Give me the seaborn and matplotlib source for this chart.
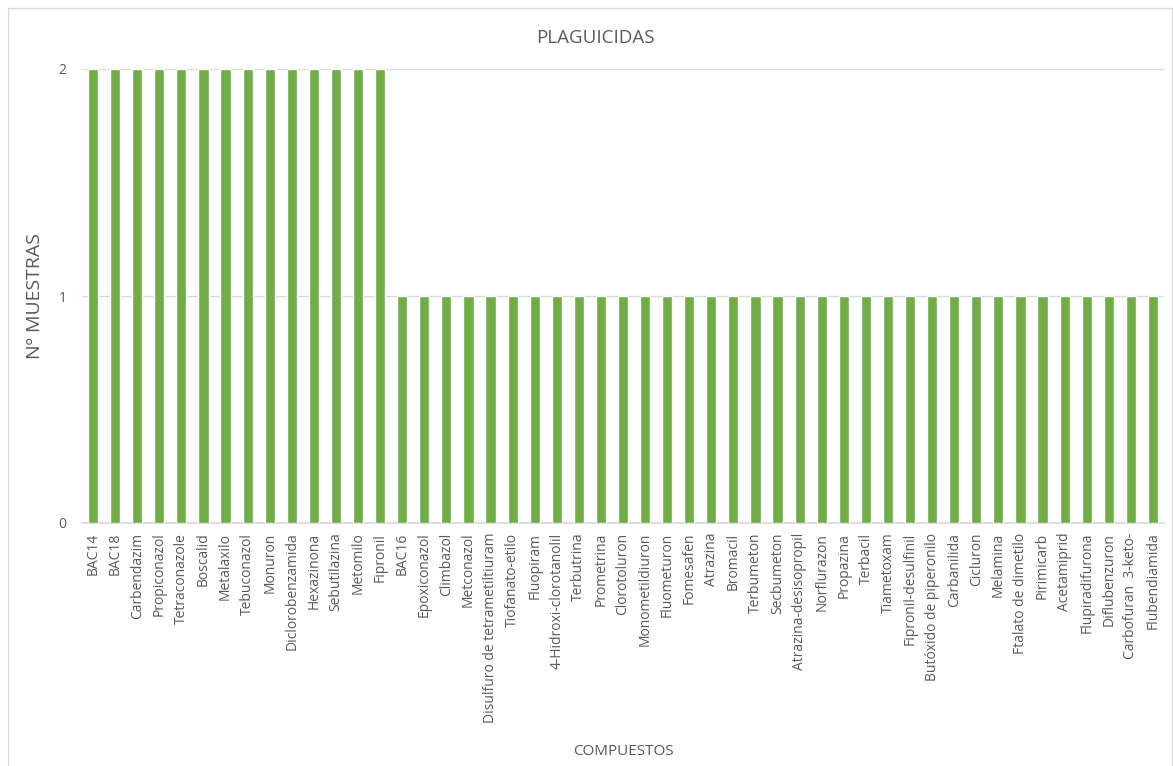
import matplotlib
matplotlib.use("Agg")
import matplotlib.pyplot as plt
import seaborn as sns
import pandas as pd
from matplotlib.patches import Rectangle

compuestos = [
    "BAC14", "BAC18", "Carbendazim", "Propiconazol", "Tetraconazole", "Boscalid",
    "Metalaxilo", "Tebuconazol", "Monuron", "Diclorobenzamida", "Hexazinona",
    "Sebutilazina", "Metomilo", "Fipronil", "BAC16", "Epoxiconazol", "Climbazol",
    "Metconazol", "Disulfuro de tetrametiltiuram", "Tiofanato-etilo", "Fluopiram",
    "4-Hidroxi-clorotanolil", "Terbutrina", "Prometrina", "Clorotoluron",
    "Monometildiuron", "Fluometuron", "Fomesafen", "Atrazina", "Bromacil",
    "Terbumeton", "Secbumeton", "Atrazina-desisopropil", "Norflurazon", "Propazina",
    "Terbacil", "Tiametoxam", "Fipronil-desulfinil", "Butóxido de piperonilo",
    "Carbanilida", "Cicluron", "Melamina", "Ftalato de dimetilo", "Pirimicarb",
    "Acetamiprid", "Flupiradifurona", "Diflubenzuron", "Carbofuran  3-keto-",
    "Flubendiamida",
]
muestras = [2] * 14 + [1] * 35
yticks = [0, 1, 2]

sns.set_theme(style="white")
plt.rcParams["font.family"] = ["Open Sans", "DejaVu Sans"]
gray = "#595959"

df = pd.DataFrame({"compuesto": compuestos, "n": muestras})

fig = plt.figure(figsize=(11.73, 7.66), dpi=100)
ax = fig.add_axes([82 / 1173, 1 - 523 / 766, (1164 - 82) / 1173, (523 - 69) / 766])

sns.barplot(data=df, x="compuesto", y="n", color="#70ad47", width=0.46,
            saturation=1, ax=ax, zorder=3)

ax.set_ylim(0, 2)
ax.set_xlim(-0.5, len(compuestos) - 0.5)
ax.set_yticks(yticks)
ax.set_yticklabels([str(v) for v in yticks], color=gray, fontsize=10)
ax.yaxis.grid(True, color="#d9d9d9", linewidth=1, zorder=0)
ax.tick_params(axis="y", length=0, pad=11)
ax.tick_params(axis="x", length=0, pad=7)
ax.set_xticks(range(len(compuestos)))
ax.set_xticklabels(compuestos, rotation=90, fontsize=10, color=gray)
for s in ["top", "right", "left"]:
    ax.spines[s].set_visible(False)
ax.spines["bottom"].set_color("#d9d9d9")

ax.set_xlabel("COMPUESTOS", fontsize=11, color=gray, labelpad=0)
ax.xaxis.set_label_coords(0.5, -(744 - 523) / (523 - 69), transform=ax.transAxes)
ax.set_ylabel("Nº MUESTRAS", fontsize=14, color=gray)
ax.yaxis.set_label_coords(-(82 - 44) / (1164 - 82), 0.5)

fig.text(595 / 1173, 1 - 38 / 766, "PLAGUICIDAS", ha="center", va="center",
         fontsize=13.5, color=gray)

fig.patches.append(Rectangle((8 / 1173, -0.01), (1172 - 8) / 1173, 1 - 8 / 766 + 0.01,
                             transform=fig.transFigure, fill=False,
                             edgecolor="#d9d9d9", linewidth=1))

fig.savefig("out.png", dpi=100)
